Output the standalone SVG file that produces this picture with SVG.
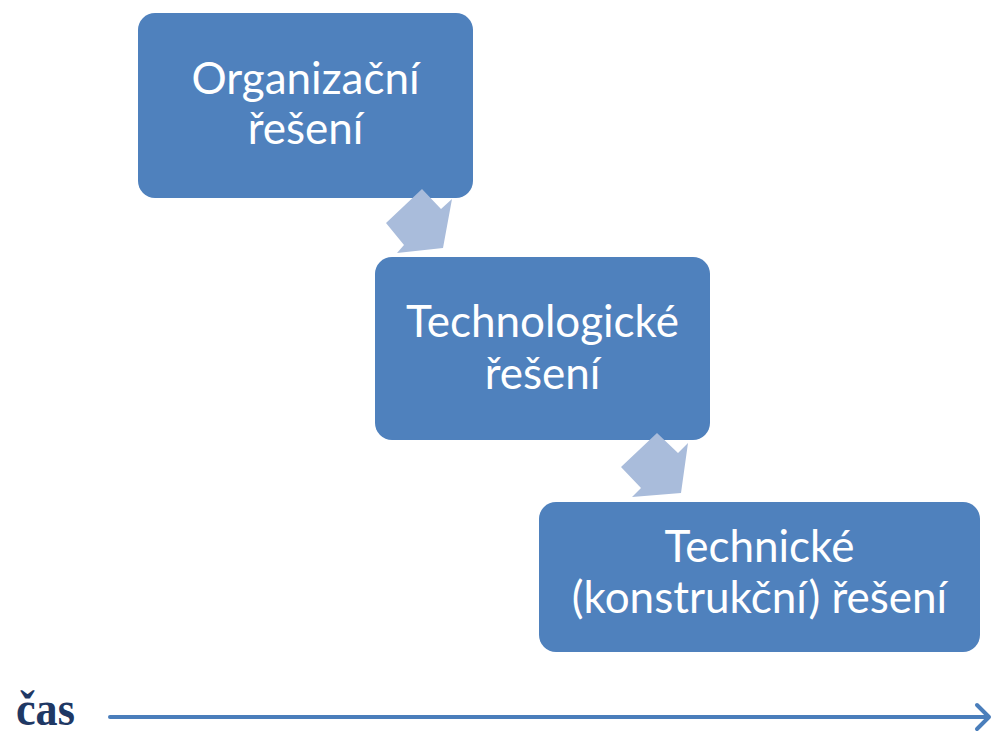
<svg xmlns="http://www.w3.org/2000/svg" width="994" height="736" viewBox="0 0 994 736">
  <style>
    .box { fill: #4F81BD; }
    .step { fill: #A9BCDB; }
    .label { font-family: Lato, "Open Sans", "Noto Sans", sans-serif; font-size: 44px; fill: #FFFFFF; text-anchor: middle; }
    .time { font-family: "Liberation Serif", "DejaVu Serif", serif; font-size: 48px; font-weight: bold; fill: #1F3864; }
    .axis { stroke: #4A7EBB; stroke-width: 4; fill: none; stroke-linecap: round; stroke-linejoin: round; }
  </style>

  <rect width="994" height="736" fill="#FFFFFF"/>

  <g id="node-organizacni">
    <rect class="box" x="138" y="13" width="335" height="185" rx="17"/>
    <text class="label" x="305.5" y="94">Organizační</text>
    <text class="label" x="305.5" y="144">řešení</text>
  </g>

  <g id="node-technologicke">
    <rect class="box" x="375" y="257" width="335" height="183" rx="17"/>
    <text class="label" x="542.5" y="337">Technologické</text>
    <text class="label" x="542.5" y="389">řešení</text>
  </g>

  <g id="node-technicke">
    <rect class="box" x="539" y="502" width="441" height="150" rx="17"/>
    <text class="label" x="759.5" y="562">Technické</text>
    <text class="label" x="759.5" y="613">(konstrukční) řešení</text>
  </g>

  <g id="connectors">
    <polygon class="step" points="422,189 441,209 452,199 443,248 397,253 404,245 386,223"/>
    <polygon class="step" points="657,433 678,453 688,443 681,493 632,497 641,488 621,467"/>
  </g>

  <g id="time-axis">
    <text class="time" transform="translate(16,725) scale(0.92,1)">čas</text>
    <line class="axis" x1="110" y1="717" x2="988" y2="717"/>
    <polyline class="axis" points="977,705 989,717 977,729"/>
  </g>
</svg>
